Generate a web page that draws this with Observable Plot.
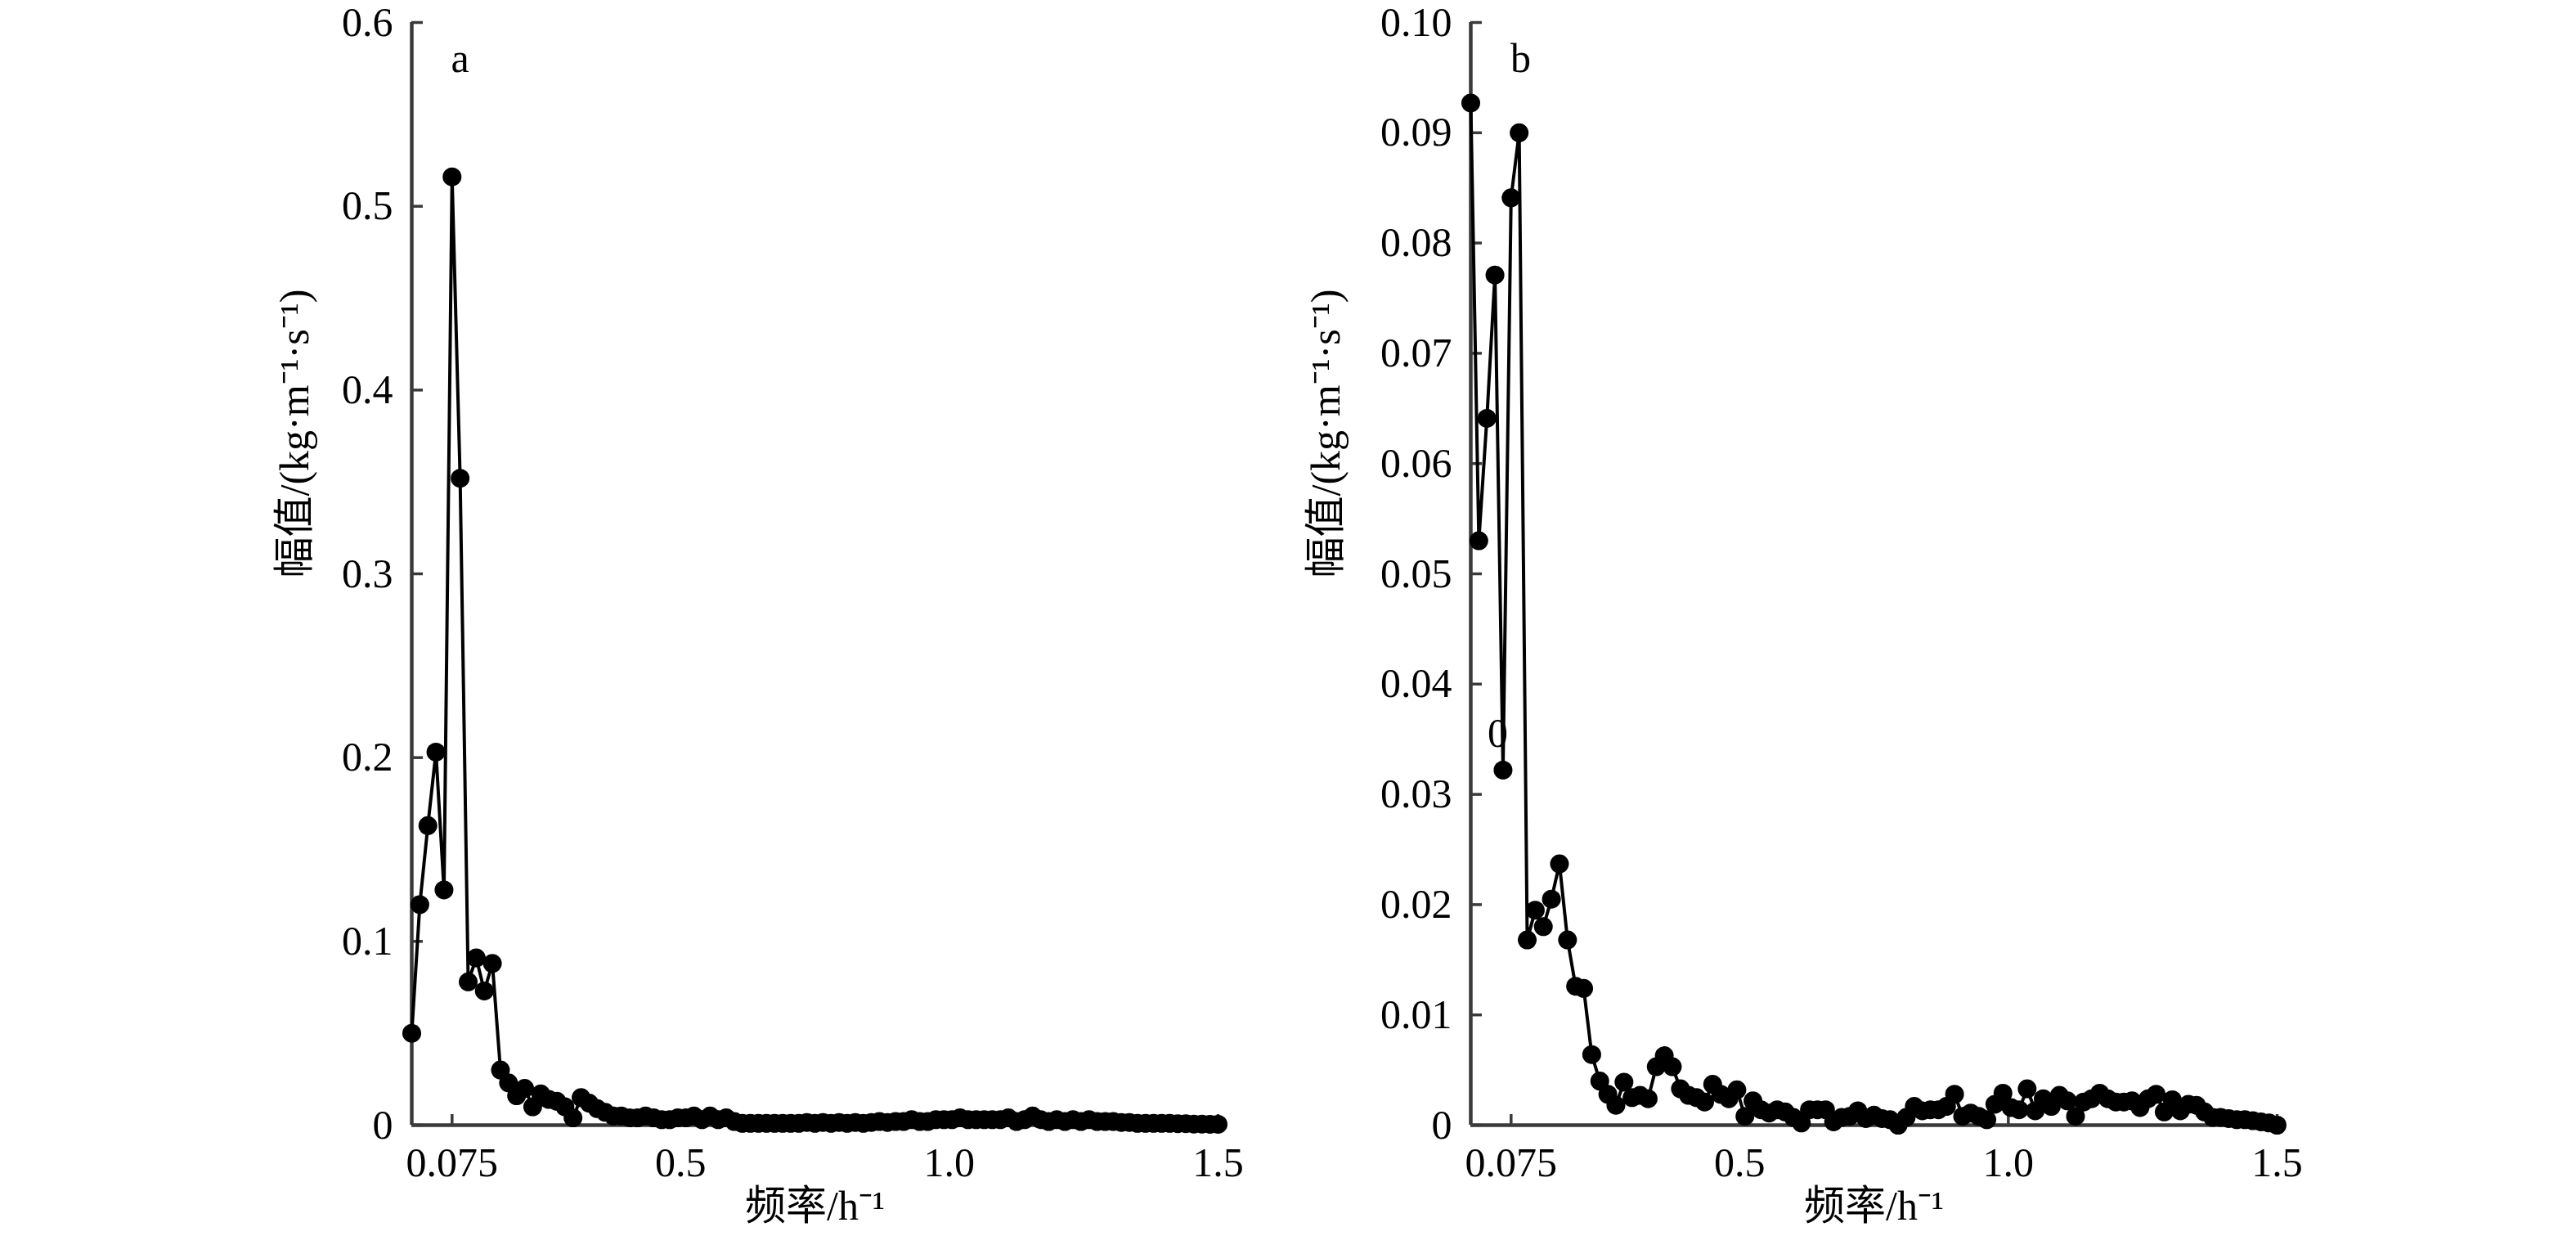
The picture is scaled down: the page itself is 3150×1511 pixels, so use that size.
<!DOCTYPE html>
<html><head><meta charset="utf-8">
<script src="https://cdn.jsdelivr.net/npm/d3@7"></script>
<script src="https://cdn.jsdelivr.net/npm/@observablehq/plot@0.6"></script>
<style>
html,body{margin:0;padding:0;background:#fff;}
#wrap{display:flex;width:3150px;height:1511px;overflow:hidden;}
#wrap svg{display:block;flex:none;}
</style></head><body><div id="wrap"></div>
<script>
const freq = [
0,0.015,0.03,0.045,0.06,0.075,0.09,0.105,0.12,0.135,
0.15,0.165,0.18,0.195,0.21,0.225,0.24,0.255,0.27,0.285,
0.3,0.315,0.33,0.345,0.36,0.375,0.39,0.405,0.42,0.435,
0.45,0.465,0.48,0.495,0.51,0.525,0.54,0.555,0.57,0.585,
0.6,0.615,0.63,0.645,0.66,0.675,0.69,0.705,0.72,0.735,
0.75,0.765,0.78,0.795,0.81,0.825,0.84,0.855,0.87,0.885,
0.9,0.915,0.93,0.945,0.96,0.975,0.99,1.005,1.02,1.035,
1.05,1.065,1.08,1.095,1.11,1.125,1.14,1.155,1.17,1.185,
1.2,1.215,1.23,1.245,1.26,1.275,1.29,1.305,1.32,1.335,
1.35,1.365,1.38,1.395,1.41,1.425,1.44,1.455,1.47,1.485,
1.5];

const ampA = [
0.050,0.120,0.163,0.203,0.128,0.516,0.352,0.078,0.091,0.073,
0.088,0.030,0.023,0.016,0.020,0.010,0.017,0.014,0.013,0.010,
0.004,0.015,0.012,0.009,0.007,0.005,0.005,0.004,0.004,0.005,
0.004,0.003,0.003,0.004,0.004,0.005,0.003,0.005,0.003,0.004,
0.002,0.001,0.001,0.001,0.001,0.001,0.001,0.001,0.001,0.0015,
0.001,0.0015,0.001,0.0015,0.001,0.0015,0.001,0.0015,0.002,0.0015,
0.002,0.002,0.003,0.002,0.002,0.003,0.003,0.003,0.004,0.003,
0.003,0.003,0.003,0.003,0.004,0.002,0.003,0.005,0.003,0.002,
0.003,0.002,0.003,0.002,0.003,0.002,0.002,0.002,0.0015,0.0015,
0.001,0.001,0.001,0.001,0.001,0.0008,0.0008,0.0006,0.0006,0.0005,
0.0005];

const ampB = [
0.0927,0.0530,0.0641,0.0771,0.0322,0.0841,0.0900,0.0168,0.0195,0.0180,
0.0205,0.0237,0.0168,0.0126,0.0124,0.0064,0.0040,0.0028,0.0018,0.0039,
0.0025,0.0027,0.0024,0.0053,0.0063,0.0053,0.0033,0.0027,0.0025,0.0021,
0.0037,0.0028,0.0024,0.0032,0.0008,0.0022,0.0014,0.0011,0.0014,0.0012,
0.0007,0.0002,0.0014,0.0014,0.0014,0.0003,0.0007,0.0008,0.0013,0.0006,
0.0009,0.0006,0.0005,0.0000,0.0007,0.0017,0.0013,0.0014,0.0014,0.0017,
0.0028,0.0008,0.0011,0.0008,0.0005,0.0019,0.0029,0.0016,0.0014,0.0033,
0.0013,0.0024,0.0017,0.0027,0.0022,0.0008,0.0021,0.0024,0.0029,0.0024,
0.0021,0.0021,0.0022,0.0016,0.0024,0.0028,0.0012,0.0023,0.0013,0.0019,
0.0018,0.0012,0.0007,0.0007,0.0006,0.0005,0.0005,0.0004,0.0003,0.0002,
0.0000];

const xTicks = [0.075, 0.5, 1.0, 1.5];
const xTickLabels = ["0.075", "0.5", "1.0", "1.5"];
const yTicksA = [0, 0.1, 0.2, 0.3, 0.4, 0.5, 0.6];
const yTickLabelsA = ["0", "0.1", "0.2", "0.3", "0.4", "0.5", "0.6"];
const yTicksB = [0, 0.01, 0.02, 0.03, 0.04, 0.05, 0.06, 0.07, 0.08, 0.09, 0.10];
const yTickLabelsB = ["0", "0.01", "0.02", "0.03", "0.04", "0.05", "0.06", "0.07", "0.08", "0.09", "0.10"];
const panelLabels = ["a", "b"];
const strayLabelB = "0";
const xTitle = "频率/h⁻¹";
const yTitle = "幅值/(kg·m⁻¹·s⁻¹)";

const FONT = "'Liberation Serif','Times New Roman','Noto Sans CJK SC',serif";
const AXIS = "#3a3a3a";

function lookup(ticks, labels) {
  return d => {
    const i = ticks.findIndex(t => Math.abs(t - d) < 1e-9);
    return i >= 0 ? labels[i] : "";
  };
}

function panel(amp, yTicks, yLabels, label, o) {
  const data = freq.map((f, i) => ({f, v: amp[i]}));
  const marks = [
    Plot.axisY(yTicks, {tickSize: -14, tickPadding: 37, tickFormat: lookup(yTicks, yLabels),
      fontSize: 50, stroke: AXIS, strokeWidth: 3.5, label: null}),
    Plot.axisX(xTicks, {tickSize: -13, tickPadding: 40, tickFormat: lookup(xTicks, xTickLabels),
      fontSize: 50, stroke: AXIS, strokeWidth: 3.5, label: null}),
    Plot.ruleX([0], {stroke: AXIS, strokeWidth: 4.5}),
    Plot.ruleY([0], {stroke: AXIS, strokeWidth: 4.5}),
    Plot.line(data, {x: "f", y: "v", stroke: "black", strokeWidth: 4}),
    Plot.dot(data, {x: "f", y: "v", r: 11.5, fill: "black", stroke: "none"}),
    Plot.text([label], {frameAnchor: "top-left", dx: o.labelDx, dy: 60, lineAnchor: "bottom",
      textAnchor: "middle", fontSize: 50, fill: "black"}),
    Plot.text([yTitle], {frameAnchor: "left", rotate: -90, dx: o.titleDx, dy: 5,
      fontSize: 50, fill: "black"}),
    Plot.text([xTitle], {frameAnchor: "bottom", dy: 99, lineAnchor: "middle",
      fontSize: 50, fill: "black"})
  ];
  if (o.extra) marks.push(o.extra);
  return Plot.plot({
    width: 1575, height: 1511,
    marginLeft: o.ml, marginRight: o.mr, marginTop: 27, marginBottom: 136,
    style: {fontFamily: FONT, fontSize: "50px", background: "white", color: "black", overflow: "visible"},
    x: {domain: [0, 1.5]},
    y: {domain: [0, yTicks[yTicks.length - 1]]},
    marks
  });
}

const wrap = document.getElementById("wrap");
wrap.append(panel(ampA, yTicksA, yTickLabelsA, panelLabels[0], {ml: 503, mr: 86, labelDx: 59, titleDx: -143}));
wrap.append(panel(ampB, yTicksB, yTickLabelsB, panelLabels[1], {ml: 223, mr: 366, labelDx: 61, titleDx: -177,
  extra: Plot.text([strayLabelB], {frameAnchor: "top-left", dx: 33, dy: 869, lineAnchor: "middle",
    textAnchor: "middle", fontSize: 50, fill: "black"})}));
</script></body></html>
